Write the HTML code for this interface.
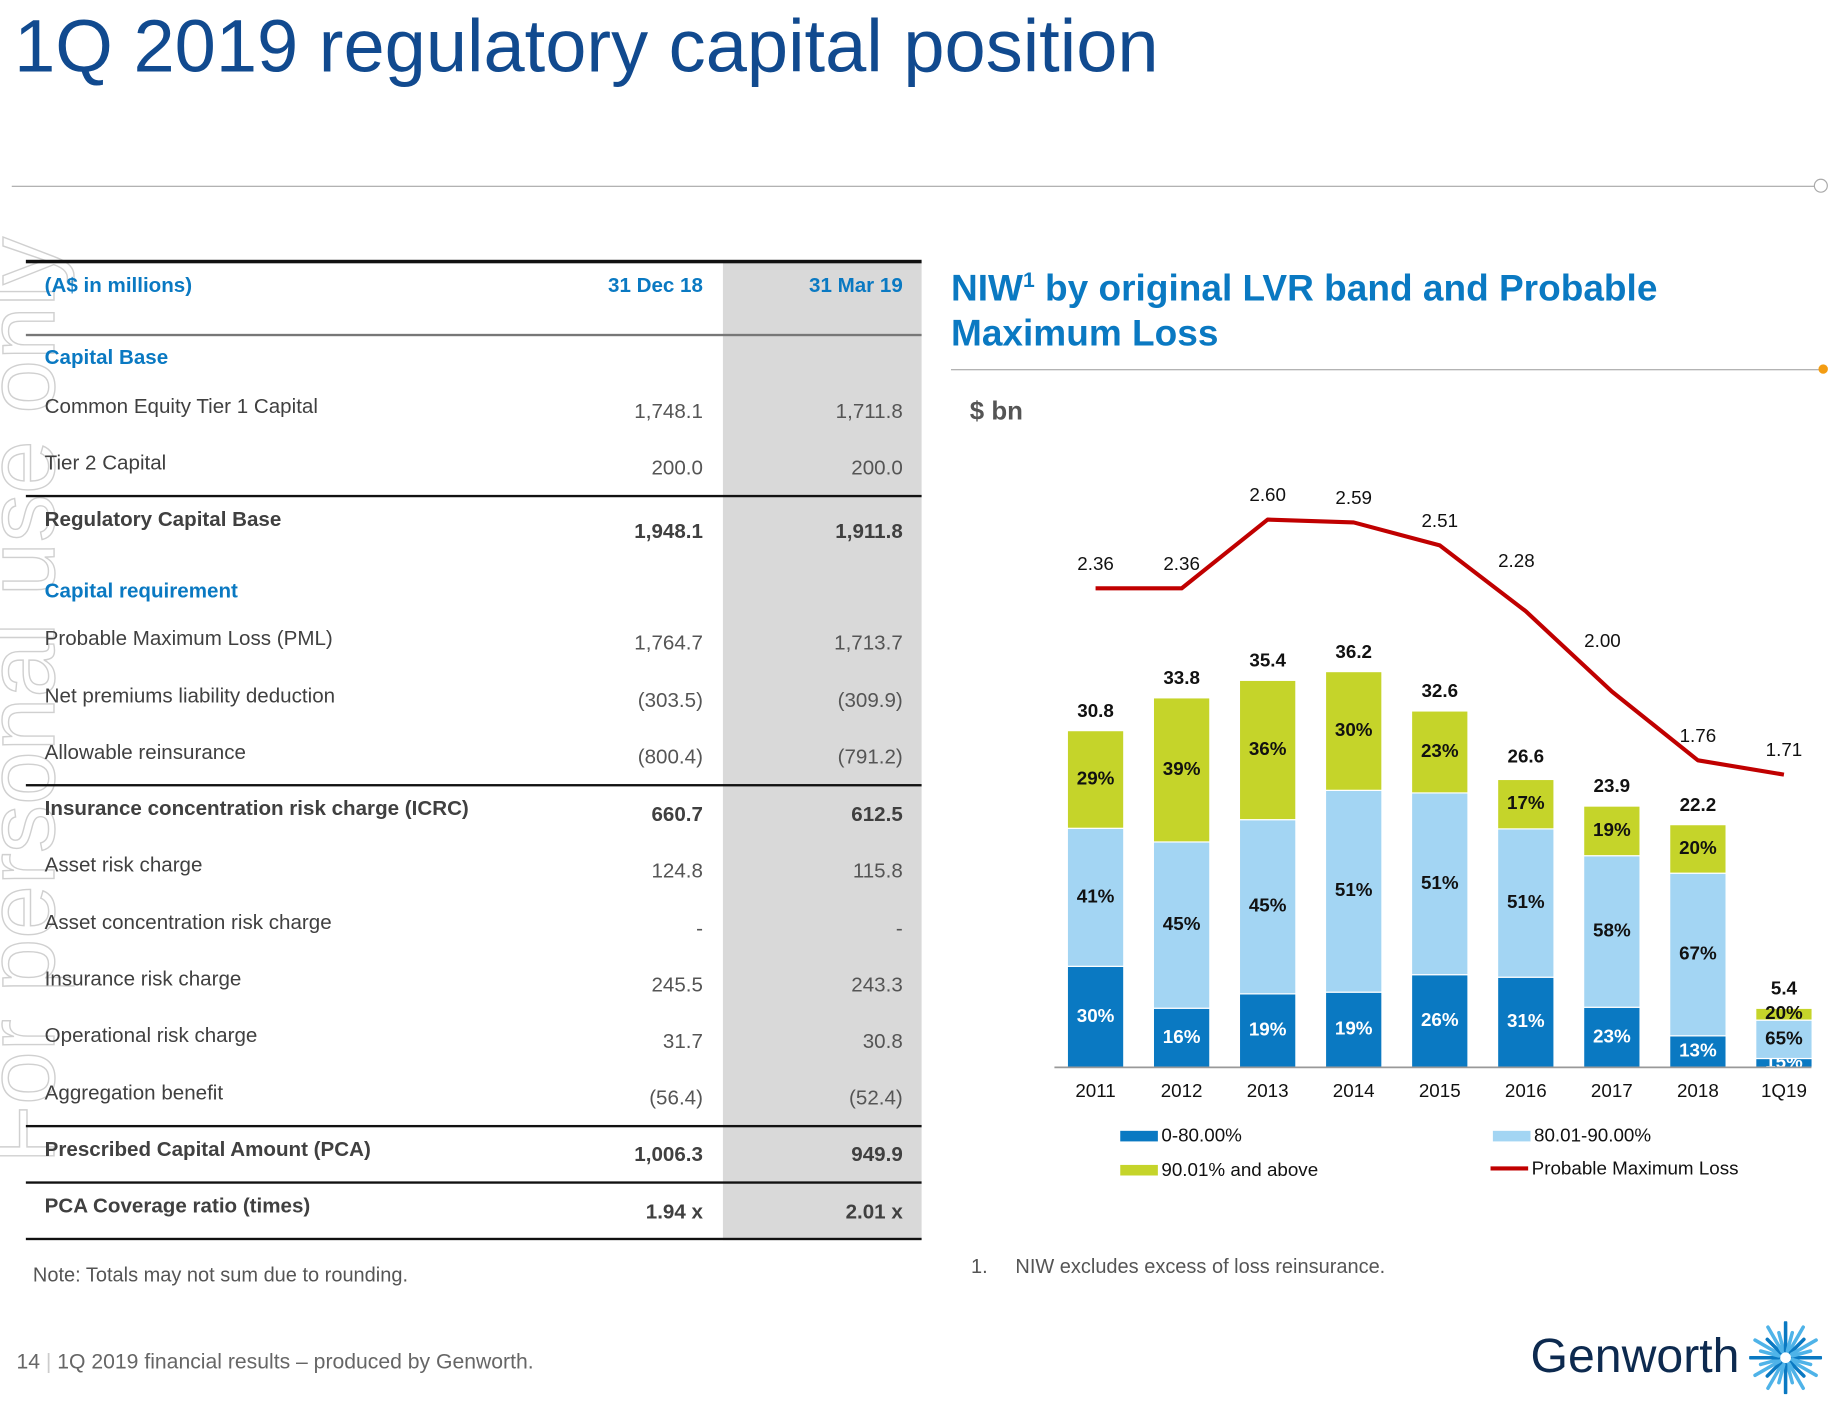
<!DOCTYPE html>
<html><head><meta charset="utf-8">
<style>
html,body{margin:0;padding:0;background:#fff;overflow:hidden;width:1841px;height:1401px}
#page{position:absolute;left:0;top:0;width:1566px;height:1192px;transform:scale(1.1755);transform-origin:0 0;font-family:"Liberation Sans",Arial,sans-serif}
.abs{position:absolute;white-space:nowrap}
.lbl{position:absolute;left:38px;font-size:17.5px;color:#404040;transform:translateY(-50%)}
.v1,.v2{position:absolute;font-size:17.5px;color:#555;transform:translateY(-50%);text-align:right}
.v1{left:0;width:598px}.v2{left:0;width:768px}
.b{font-weight:bold;color:#404040}
.blue{color:#0a79c2;font-weight:bold}
.hl{position:absolute;left:22px;width:762px}
</style></head><body>
<div id="page">
<div class="abs" style="left:12px;top:4px;font-size:63px;color:#114a8f">1Q 2019 regulatory capital position</div>
<div class="abs" style="left:10px;top:158px;width:1535px;height:1px;background:#aaa"></div>
<div class="abs" style="left:1543px;top:152px;width:10px;height:10px;border:1.5px solid #aaa;border-radius:50%;background:#fff"></div>

<div class="abs" style="left:-28px;top:990px;transform:rotate(-90deg);transform-origin:0 0;font-size:82px;color:transparent;-webkit-text-stroke:1.2px #d0d0d0">For personal use only</div>

<div>
<div class="abs" style="left:615px;top:222px;width:169px;height:833px;background:#d9d9d9"></div>
<div class="hl" style="top:221px;height:3px;background:#111"></div>
<div class="hl" style="top:284px;height:2px;background:#777"></div>
<div class="hl" style="top:421px;height:2px;background:#111"></div>
<div class="hl" style="top:667px;height:2px;background:#111"></div>
<div class="hl" style="top:957px;height:2px;background:#111"></div>
<div class="hl" style="top:1005px;height:2px;background:#111"></div>
<div class="hl" style="top:1053px;height:2px;background:#111"></div>

<div class="lbl blue" style="top:243px">(A$ in millions)</div>
<div class="v1 blue" style="top:243px">31 Dec 18</div>
<div class="v2 blue" style="top:243px">31 Mar 19</div>
<div class="lbl blue" style="top:304px">Capital Base</div>
<div class="lbl" style="top:346px">Common Equity Tier 1 Capital</div><div class="v1" style="top:350px">1,748.1</div><div class="v2" style="top:350px">1,711.8</div>
<div class="lbl" style="top:394px">Tier 2 Capital</div><div class="v1" style="top:398px">200.0</div><div class="v2" style="top:398px">200.0</div>
<div class="lbl b" style="top:442px">Regulatory Capital Base</div><div class="v1 b" style="top:452px">1,948.1</div><div class="v2 b" style="top:452px">1,911.8</div>
<div class="lbl blue" style="top:503px">Capital requirement</div>
<div class="lbl" style="top:543px">Probable Maximum Loss (PML)</div><div class="v1" style="top:547px">1,764.7</div><div class="v2" style="top:547px">1,713.7</div>
<div class="lbl" style="top:592px">Net premiums liability deduction</div><div class="v1" style="top:596px">(303.5)</div><div class="v2" style="top:596px">(309.9)</div>
<div class="lbl" style="top:640px">Allowable reinsurance</div><div class="v1" style="top:644px">(800.4)</div><div class="v2" style="top:644px">(791.2)</div>
<div class="lbl b" style="top:688px">Insurance concentration risk charge (ICRC)</div><div class="v1 b" style="top:693px">660.7</div><div class="v2 b" style="top:693px">612.5</div>
<div class="lbl" style="top:736px">Asset risk charge</div><div class="v1" style="top:741px">124.8</div><div class="v2" style="top:741px">115.8</div>
<div class="lbl" style="top:785px">Asset concentration risk charge</div><div class="v1" style="top:790px">-</div><div class="v2" style="top:790px">-</div>
<div class="lbl" style="top:833px">Insurance risk charge</div><div class="v1" style="top:838px">245.5</div><div class="v2" style="top:838px">243.3</div>
<div class="lbl" style="top:881px">Operational risk charge</div><div class="v1" style="top:886px">31.7</div><div class="v2" style="top:886px">30.8</div>
<div class="lbl" style="top:930px">Aggregation benefit</div><div class="v1" style="top:934px">(56.4)</div><div class="v2" style="top:934px">(52.4)</div>
<div class="lbl b" style="top:978px">Prescribed Capital Amount (PCA)</div><div class="v1 b" style="top:982px">1,006.3</div><div class="v2 b" style="top:982px">949.9</div>
<div class="lbl b" style="top:1026px">PCA Coverage ratio (times)</div><div class="v1 b" style="top:1031px">1.94 x</div><div class="v2 b" style="top:1031px">2.01 x</div>
</div>
<div class="abs" style="left:28px;top:1075px;font-size:17px;color:#555">Note: Totals may not sum due to rounding.</div>

<div class="abs" style="left:809px;top:219px;font-size:31.5px;line-height:38px;font-weight:bold;color:#0a79c2">NIW<sup style="font-size:18px">1</sup> by original LVR band and Probable<br>Maximum Loss</div>
<div class="abs" style="left:809px;top:314px;width:740px;height:1px;background:#aaa"></div>
<div class="abs" style="left:1547px;top:310px;width:8px;height:8px;border-radius:50%;background:#f39c12"></div>
<div class="abs" style="left:825px;top:337px;font-size:22px;font-weight:bold;color:#555">$ bn</div>

<svg id="chart" class="abs" style="left:0;top:0" width="1566" height="1192" font-family="Liberation Sans, Arial, sans-serif"></svg>

<div class="abs" style="left:826px;top:1068px;font-size:17px;color:#555">1.&nbsp;&nbsp;&nbsp;&nbsp;&nbsp;NIW excludes excess of loss reinsurance.</div>
<div class="abs" style="left:14px;top:1148px;font-size:18px;color:#666">14 <span style="color:#ccc">|</span> 1Q 2019 financial results – produced by Genworth.</div>
<div class="abs" style="left:1302px;top:1130px;font-size:41px;color:#0d2a4f">Genworth</div>
<svg class="abs" style="left:1488px;top:1124px" width="62" height="62" id="star"></svg>
</div>
<script>
const categories=["2011","2012","2013","2014","2015","2016","2017","2018","1Q19"];
const totals=[30.8,33.8,35.4,36.2,32.6,26.6,23.9,22.2,5.4];
const lowPct=[30,16,19,19,26,31,23,13,15];
const midPct=[41,45,45,51,51,51,58,67,65];
const highPct=[29,39,36,30,23,17,19,20,20];
const pml=[2.36,2.36,2.60,2.59,2.51,2.28,2.00,1.76,1.71];
const NS="http://www.w3.org/2000/svg";
const svg=document.getElementById('chart');
const x0=932,step=73.2,base=908,barW=48,kBar=9.3;
const xAt=i=>x0+i*step;
const yBar=v=>base-v*kBar;
const yLine=v=>442-(v-2.6)*243.8;
function mk(tag,attrs,parent){const e=document.createElementNS(NS,tag);for(const k in attrs)e.setAttribute(k,attrs[k]);(parent||svg).appendChild(e);return e;}
function txt(x,y,s,size,weight,fill,name){const t=mk('text',{x:x,y:y,'font-size':size,'font-weight':weight,fill:fill,'text-anchor':'middle','dominant-baseline':'middle'});t.textContent=s;


return t;}
const colors=['#0a79c2','#a3d5f3','#c5d42a'];
categories.forEach((c,i)=>{
  const cx=xAt(i);let acc=0;
  [lowPct[i],midPct[i],highPct[i]].forEach((p,j)=>{
    const v=totals[i]*p/100;
    const y1=yBar(acc),y2=yBar(acc+v);
    const r=mk('rect',{x:cx-barW/2,y:y2,width:barW,height:y1-y2,fill:colors[j],stroke:'#fff','stroke-width':1});
    
    
    txt(cx,(y1+y2)/2,p+'%',16,'bold',j===0?'#fff':'#111','seg-label');
    acc+=v;
  });
  txt(cx,yBar(totals[i])-16,totals[i].toFixed(1),16,'bold','#111','total-label');
  txt(cx,929,c,16,'normal','#111','x-tick-label');
});
const ax=mk('line',{x1:897,x2:1541,y1:base,y2:base,stroke:'#999','stroke-width':1.5});


const pts=pml.map((v,i)=>xAt(i)+','+yLine(v)).join(' ');
const pl=mk('polyline',{points:pts,fill:'none',stroke:'#c00000','stroke-width':3.5,'stroke-linejoin':'round'});


pml.forEach((v,i)=>{
  const y=yLine(v);let dy=-20,dx=0;
  if(i>0&&i<pml.length-1&&yLine(pml[i-1])<y-40&&yLine(pml[i+1])>y+40){dy=-42;dx=-8;}
  txt(xAt(i)+dx,y+dy,v.toFixed(2),16,'normal','#111','pml-label');
});
const leg=[[953,966,'#0a79c2','0-80.00%','rect'],[1270,966,'#a3d5f3','80.01-90.00%','rect'],[953,995,'#c5d42a','90.01% and above','rect'],[1268,994,'#c00000','Probable Maximum Loss','line']];
leg.forEach(l=>{
  const g=mk('g',{});
  
  
  if(l[4]==='rect')mk('rect',{x:l[0],y:l[1]-4,width:32,height:9,fill:l[2]},g);
  else mk('line',{x1:l[0],x2:l[0]+32,y1:l[1],y2:l[1],stroke:l[2],'stroke-width':3.5},g);
  const t=mk('text',{x:l[0]+35,y:l[1]+1,'font-size':16,fill:'#111','dominant-baseline':'middle'},g);t.textContent=l[3];
});
const st=document.getElementById('star');
for(let a=0;a<24;a++){const ang=a*Math.PI/12;const r1=6,r2=a%2?22:30;
  const ln=mk('line',{x1:31+r1*Math.cos(ang),y1:31+r1*Math.sin(ang),x2:31+r2*Math.cos(ang),y2:31+r2*Math.sin(ang),stroke:a%3?'#4fb3e8':'#0a79c2','stroke-width':3,'stroke-linecap':'round'},st);
  
  }
</script>
</body></html>
